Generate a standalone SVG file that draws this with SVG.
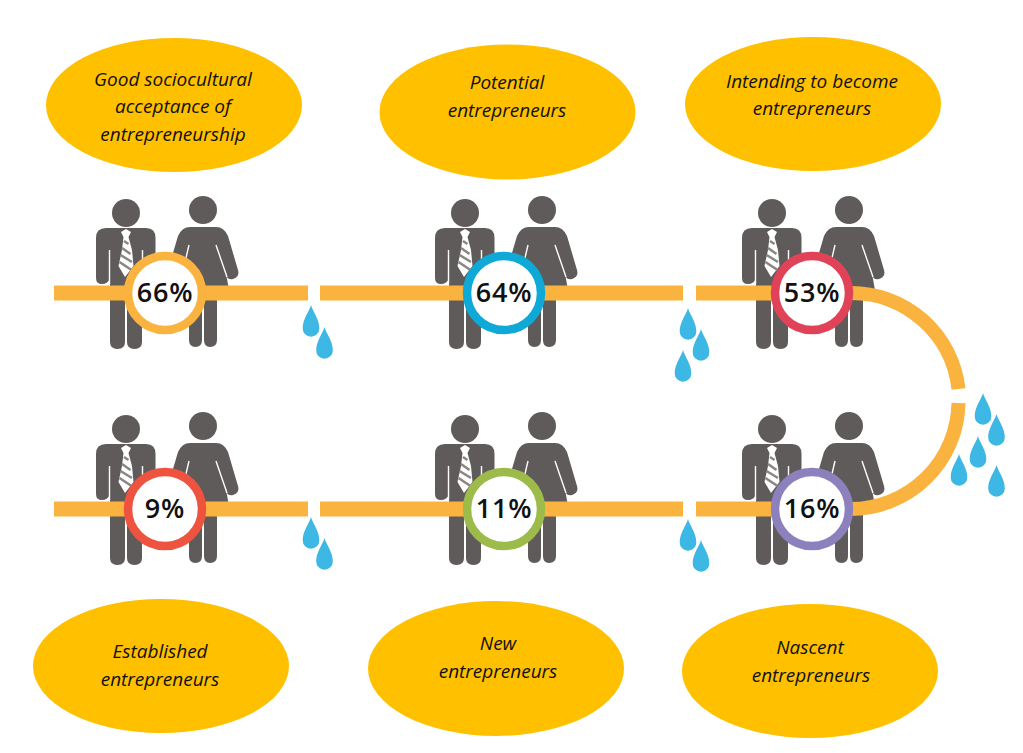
<svg xmlns="http://www.w3.org/2000/svg" width="1023" height="753" viewBox="0 0 1023 753">
<style>
.oval{fill:#FFC000}
.lab{font-family:"Open Sans","Noto Sans",sans-serif;font-style:italic;font-size:19px;fill:#111;text-anchor:middle}
.pct{font-family:"Open Sans","Noto Sans",sans-serif;font-weight:600;font-size:27px;letter-spacing:.8px;fill:#111;text-anchor:middle}
.ring{fill:#fff;stroke-width:8.5}
.pipe{fill:none;stroke:#FBB33F;stroke-width:15}
.drop{fill:#3DB7E4}
.sk{fill:#5F5B5A}
.sl{stroke:#fff;stroke-width:1.4;fill:none}
</style>
<defs>
<g id="pair">
<circle class="sk" cx="126" cy="213" r="14"/>
<path class="sk" d="M106 228H146Q155.500 228 155.500 238V278Q155.500 284 149.500 284Q144 284 144 278V284H142V342Q142 349 134.500 349Q127 349 127 342V300H125V342Q125 349 117.500 349Q110 349 110 342V278Q108 284 102 284Q96 284 96 278V238Q96 228 106 228Z"/>
<path class="sl" d="M109.500 250V284M142.500 250V284"/>
<path d="M121 232L126 229L131 232L128.500 237L132 250L133.500 266L125 277L118.500 266L122 250L123.500 237Z" fill="#fff"/>
<path d="M124 241L128.500 244M122 248L130.500 254M120.500 255L132 262M119.500 262L131.500 270" stroke="#8a8786" stroke-width="2.600" fill="none"/>
<circle class="sk" cx="203" cy="210" r="14"/>
<path class="sk" d="M190 227H216Q224 227 228 236L238 270Q240 277 233 279Q228 280 226.500 276L230 296H217V340Q217 347 210 347Q204 347 204 340V296H202V340Q202 347 195.500 347Q189 347 189 340V296H176L179.500 276Q178 280 173 279Q166 277 168 270L178 236Q182 227 190 227Z"/>
<path class="sl" d="M189 245L182 275M216 245L227 277"/>
</g>
<path id="dr" d="M0 0C2 7 8.300 14 8.300 23.500A8.300 8.300 0 0 1 -8.300 23.500C-8.300 14 -2 7 0 0Z"/>
</defs>

<g id="people">
<use id="people-66" href="#pair"/>
<use id="people-64" href="#pair" x="339"/>
<use id="people-53" href="#pair" x="646"/>
<use id="people-9" href="#pair" y="216"/>
<use id="people-11" href="#pair" x="339" y="216"/>
<use id="people-16" href="#pair" x="646" y="216"/>
</g>

<g id="connectors">
<path class="pipe" d="M54 293H308M320 293H683M696 293H812"/>
<path class="pipe" d="M54 509H308M320 509H683M696 509H812"/>
<path class="pipe" style="stroke-width:14" d="M850 293A108 108 0 0 1 958.500 389M958.500 403A108 108 0 0 1 850 509"/>
</g>

<g id="drops">
<use class="drop" href="#dr" x="311" y="305"/>
<use class="drop" href="#dr" x="324.500" y="327"/>
<use class="drop" href="#dr" x="688" y="308"/>
<use class="drop" href="#dr" x="701" y="329"/>
<use class="drop" href="#dr" x="683" y="350"/>
<use class="drop" href="#dr" x="311" y="517"/>
<use class="drop" href="#dr" x="324.500" y="538"/>
<use class="drop" href="#dr" x="688" y="519"/>
<use class="drop" href="#dr" x="701" y="540"/>
<use class="drop" href="#dr" x="983" y="393"/>
<use class="drop" href="#dr" x="996.500" y="414"/>
<use class="drop" href="#dr" x="978" y="436"/>
<use class="drop" href="#dr" x="959" y="454"/>
<use class="drop" href="#dr" x="996.500" y="465"/>
</g>

<g id="stat-66"><circle class="ring" cx="165" cy="293" r="37" stroke="#FBB33F"/><text class="pct" x="165" y="302">66%</text></g>
<g id="stat-64"><circle class="ring" cx="504" cy="293" r="37" stroke="#0FA9D8"/><text class="pct" x="504" y="302">64%</text></g>
<g id="stat-53"><circle class="ring" cx="812" cy="293" r="37" stroke="#E04358"/><text class="pct" x="812" y="302">53%</text></g>
<g id="stat-9"><circle class="ring" cx="165" cy="509" r="37" stroke="#EE5340"/><text class="pct" x="165" y="518">9%</text></g>
<g id="stat-11"><circle class="ring" cx="504" cy="509" r="37" stroke="#9DBB4B"/><text class="pct" x="504" y="518">11%</text></g>
<g id="stat-16"><circle class="ring" cx="812" cy="509" r="37" stroke="#8C81BD"/><text class="pct" x="812" y="518">16%</text></g>

<g id="label-sociocultural"><ellipse class="oval" cx="174" cy="105" rx="128" ry="67"/><text class="lab" x="173" y="86">Good sociocultural</text><text class="lab" x="173" y="113">acceptance of</text><text class="lab" x="173" y="141">entrepreneurship</text></g>
<g id="label-potential"><ellipse class="oval" cx="507.500" cy="112" rx="128" ry="67.500"/><text class="lab" x="507" y="89">Potential</text><text class="lab" x="507" y="117">entrepreneurs</text></g>
<g id="label-intending"><ellipse class="oval" cx="813" cy="104" rx="128" ry="67"/><text class="lab" x="812" y="88">Intending to become</text><text class="lab" x="812" y="115">entrepreneurs</text></g>
<g id="label-established"><ellipse class="oval" cx="161" cy="666" rx="128" ry="67"/><text class="lab" x="160" y="658">Established</text><text class="lab" x="160" y="686">entrepreneurs</text></g>
<g id="label-new"><ellipse class="oval" cx="496" cy="668.500" rx="128" ry="67.500"/><text class="lab" x="498" y="650">New</text><text class="lab" x="498" y="678">entrepreneurs</text></g>
<g id="label-nascent"><ellipse class="oval" cx="810" cy="671" rx="128" ry="67"/><text class="lab" x="810" y="654">Nascent</text><text class="lab" x="811" y="682">entrepreneurs</text></g>
</svg>
